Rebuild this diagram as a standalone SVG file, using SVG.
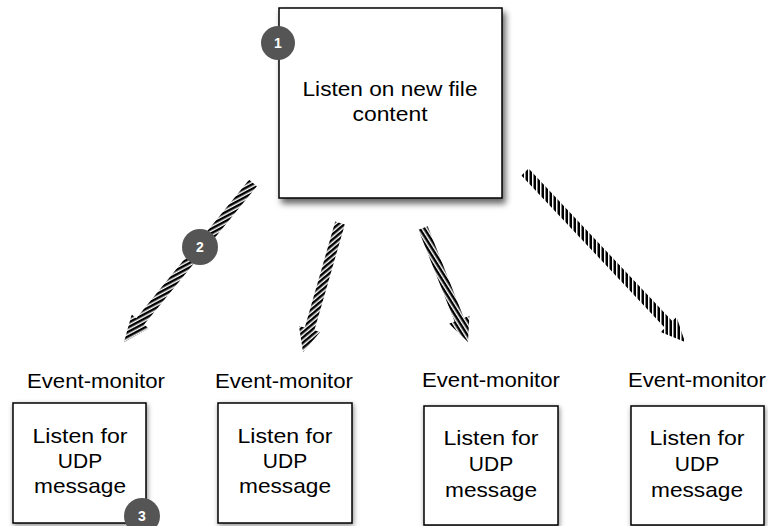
<svg xmlns="http://www.w3.org/2000/svg" width="768" height="526" viewBox="0 0 768 526">
<style>
.box{fill:#fff;stroke:#000;stroke-width:1.5}
.lbl{font-family:"Liberation Sans",Arial,sans-serif;font-size:19.5px;fill:#000;text-anchor:middle}
.big{font-family:"Liberation Sans",Arial,sans-serif;font-size:21px;fill:#000;text-anchor:middle}
.badge{fill:#555}
.num{font-family:"Liberation Sans",Arial,sans-serif;font-size:14px;font-weight:bold;fill:#fff;text-anchor:middle}
</style>
<defs>
<filter id="sh" x="-20%" y="-20%" width="150%" height="150%">
<feDropShadow dx="3" dy="5" stdDeviation="3" flood-color="#000" flood-opacity="0.6"/>
</filter>
<filter id="sh2" x="-20%" y="-20%" width="150%" height="150%">
<feDropShadow dx="1" dy="2" stdDeviation="2.5" flood-color="#000" flood-opacity="0.45"/>
</filter>
<pattern id="h1" patternUnits="userSpaceOnUse" width="4" height="4" patternTransform="rotate(-28)"><rect width="4" height="2.5" fill="#000"/></pattern>
<pattern id="h2" patternUnits="userSpaceOnUse" width="4" height="4" patternTransform="rotate(-40)"><rect width="4" height="2.5" fill="#000"/></pattern>
<pattern id="h3" patternUnits="userSpaceOnUse" width="4" height="4" patternTransform="rotate(58)"><rect width="4" height="2.5" fill="#000"/></pattern>
<pattern id="h4" patternUnits="userSpaceOnUse" width="4" height="4" patternTransform="rotate(90)"><rect width="4" height="2.5" fill="#000"/></pattern>
</defs>
<rect width="768" height="526" fill="#fff"/>

<g id="connectors">
<path fill="url(#h1)" d="M249.1,179.8 L136.3,318.2 L131.7,314.4 L124,342 L148.7,328.4 L144.1,324.6 L256.9,186.2 Z"/>
<path fill="url(#h2)" d="M335.2,221.6 L304.8,327.5 L299,325.9 L303,352 L320.2,331.9 L314.4,330.3 L344.8,224.4 Z"/>
<path fill="url(#h3)" d="M418.4,229.8 L454.6,321.5 L449,323.7 L468,342 L469.4,315.7 L463.9,317.9 L427.7,226.2 Z"/>
<path fill="url(#h4)" d="M521.4,175.4 L665,327.9 L660.6,332 L685,342 L676.6,317 L672.2,321.1 L528.6,168.6 Z"/>
</g>

<g id="source">
<rect class="box" x="279" y="8" width="223" height="190" filter="url(#sh)"/>
<text class="big" x="390" y="96" textLength="175" lengthAdjust="spacingAndGlyphs">Listen on new file</text>
<text class="big" x="390" y="121" textLength="75" lengthAdjust="spacingAndGlyphs">content</text>
</g>

<g id="monitor1">
<text class="lbl" x="96" y="388" textLength="138" lengthAdjust="spacingAndGlyphs">Event-monitor</text>
<rect class="box" x="13" y="403" width="133" height="120" filter="url(#sh2)"/>
<text class="big" x="80" y="443" textLength="95" lengthAdjust="spacingAndGlyphs">Listen for</text>
<text class="big" x="80" y="468">UDP</text>
<text class="big" x="80" y="493" textLength="92" lengthAdjust="spacingAndGlyphs">message</text>
</g>

<g id="monitor2">
<text class="lbl" x="284" y="388" textLength="138" lengthAdjust="spacingAndGlyphs">Event-monitor</text>
<rect class="box" x="218" y="403" width="134" height="120" filter="url(#sh2)"/>
<text class="big" x="285" y="443" textLength="95" lengthAdjust="spacingAndGlyphs">Listen for</text>
<text class="big" x="285" y="468">UDP</text>
<text class="big" x="285" y="493" textLength="92" lengthAdjust="spacingAndGlyphs">message</text>
</g>

<g id="monitor3">
<text class="lbl" x="491" y="387" textLength="138" lengthAdjust="spacingAndGlyphs">Event-monitor</text>
<rect class="box" x="424" y="406" width="134" height="119" filter="url(#sh2)"/>
<text class="big" x="491" y="445" textLength="95" lengthAdjust="spacingAndGlyphs">Listen for</text>
<text class="big" x="491" y="471">UDP</text>
<text class="big" x="491" y="497" textLength="92" lengthAdjust="spacingAndGlyphs">message</text>
</g>

<g id="monitor4">
<text class="lbl" x="697" y="387" textLength="138" lengthAdjust="spacingAndGlyphs">Event-monitor</text>
<rect class="box" x="631" y="406" width="133" height="119" filter="url(#sh2)"/>
<text class="big" x="697" y="445" textLength="95" lengthAdjust="spacingAndGlyphs">Listen for</text>
<text class="big" x="697" y="471">UDP</text>
<text class="big" x="697" y="497" textLength="92" lengthAdjust="spacingAndGlyphs">message</text>
</g>

<g id="badge1"><circle class="badge" cx="278" cy="43" r="17"/><text class="num" x="278" y="48">1</text></g>
<g id="badge2"><circle class="badge" cx="200" cy="247" r="18"/><text class="num" x="200" y="252">2</text></g>
<g id="badge3"><circle class="badge" cx="142" cy="516" r="18"/><text class="num" x="142" y="521">3</text></g>
</svg>
